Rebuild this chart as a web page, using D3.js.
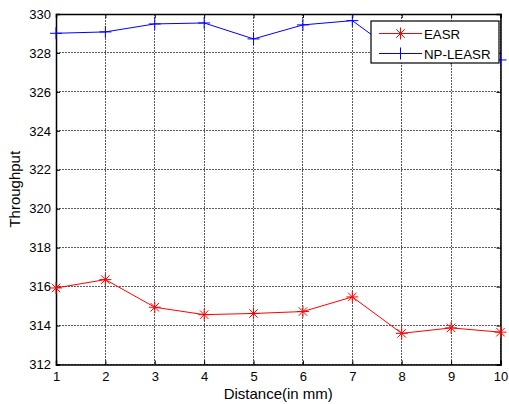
<!DOCTYPE html>
<html><head><meta charset="utf-8">
<script src="https://cdn.jsdelivr.net/npm/d3@7"></script>
<style>body{margin:0;background:#fff}svg{display:block;font-family:"Liberation Sans",Arial,sans-serif}</style>
</head><body><svg id="c" width="509" height="404"></svg>
<script>
const distances = [1,2,3,4,5,6,7,8,9,10];
const easr = [315.93,316.36,314.94,314.56,314.62,314.72,315.47,313.6,313.88,313.66];
const npleasr = [329.01,329.08,329.49,329.54,328.72,329.44,329.66,327.8,327.7,327.64];
const yTicks = [312,314,316,318,320,322,324,326,328,330];
const seriesNames = ["EASR","NP-LEASR"];

const svg = d3.select("#c");
const L=56, R=500.5, T=14, B=364.5;
const x = d3.scaleLinear().domain([1,10]).range([L,R]);
const y = d3.scaleLinear().domain([312,330]).range([B,T]);

// grid
const g = svg.append("g");
distances.forEach(d=>{
  g.append("line").attr("x1",x(d)).attr("x2",x(d)).attr("y1",T).attr("y2",B)
   .attr("stroke","#5a5a5a").attr("stroke-dasharray","2,1").attr("shape-rendering","crispEdges");
});
yTicks.forEach(v=>{
  g.append("line").attr("x1",L).attr("x2",R).attr("y1",y(v)).attr("y2",y(v))
   .attr("stroke","#5a5a5a").attr("stroke-dasharray","2,1").attr("shape-rendering","crispEdges");
});

// axes
const xa = svg.append("g").attr("transform",`translate(0,${B})`)
  .call(d3.axisBottom(x).tickValues(distances).tickSize(-4).tickPadding(7).tickFormat(d3.format("d")));
const xt = svg.append("g").attr("transform",`translate(0,${T})`)
  .call(d3.axisTop(x).tickValues(distances).tickSize(-4).tickFormat(""));
const ya = svg.append("g").attr("transform",`translate(${L},0)`)
  .call(d3.axisLeft(y).tickValues(yTicks).tickSize(-4).tickPadding(5).tickFormat(d3.format("d")));
const yr = svg.append("g").attr("transform",`translate(${R},0)`)
  .call(d3.axisRight(y).tickValues(yTicks).tickSize(-4).tickFormat(""));
[xa,xt,ya,yr].forEach(a=>{
  a.selectAll(".domain").attr("stroke","#000").attr("stroke-width",1.5);
  a.selectAll(".tick line").attr("stroke","#000");
  a.selectAll("text").attr("font-size",13).attr("fill","#000").attr("font-family","Liberation Sans, Arial, sans-serif");
});

// lines
const line = d3.line().x((d,i)=>x(distances[i])).y(d=>y(d));
function star(sel,cx,cy,r,color){
  for(let k=0;k<4;k++){
    const a=k*Math.PI/4;
    sel.append("line").attr("x1",cx-r*Math.cos(a)).attr("y1",cy-r*Math.sin(a))
      .attr("x2",cx+r*Math.cos(a)).attr("y2",cy+r*Math.sin(a)).attr("stroke",color).attr("stroke-width",1);
  }
}
function plus(sel,cx,cy,r,color){
  sel.append("line").attr("x1",cx-r).attr("x2",cx+r).attr("y1",cy).attr("y2",cy).attr("stroke",color);
  sel.append("line").attr("x1",cx).attr("x2",cx).attr("y1",cy-r).attr("y2",cy+r).attr("stroke",color);
}
svg.append("path").datum(easr).attr("d",line).attr("fill","none").attr("stroke","#ff0000").attr("stroke-width",1);
const em = svg.append("g");
easr.forEach((v,i)=>star(em,x(distances[i]),y(v),6,"#ff0000"));
svg.append("path").datum(npleasr).attr("d",line).attr("fill","none").attr("stroke","#0000ff").attr("stroke-width",1);
const nm = svg.append("g");
npleasr.forEach((v,i)=>plus(nm,x(distances[i]),y(v),6,"#0000ff"));

// titles
svg.append("text").attr("x",(L+R)/2).attr("y",399).attr("text-anchor","middle").attr("font-size",15).text("Distance(in mm)");
svg.append("text").attr("transform",`translate(20,${(T+B)/2}) rotate(-90)`).attr("text-anchor","middle").attr("font-size",15).text("Throughput");

// legend
const lg = svg.append("g");
lg.append("rect").attr("x",371).attr("y",21).attr("width",128).attr("height",42).attr("fill","#fff").attr("stroke","#000").attr("stroke-width",1.2);
const colors=["#ff0000","#0000ff"];
seriesNames.forEach((n,i)=>{
  const ly = 33.5 + i*20;
  lg.append("line").attr("x1",379).attr("x2",422).attr("y1",ly).attr("y2",ly).attr("stroke",colors[i]);
  if(i===0) star(lg,400.5,ly,6,colors[i]); else plus(lg,400.5,ly,6,colors[i]);
  lg.append("text").attr("x",424).attr("y",ly+5).attr("font-size",13.3).text(n);
});
</script></body></html>
